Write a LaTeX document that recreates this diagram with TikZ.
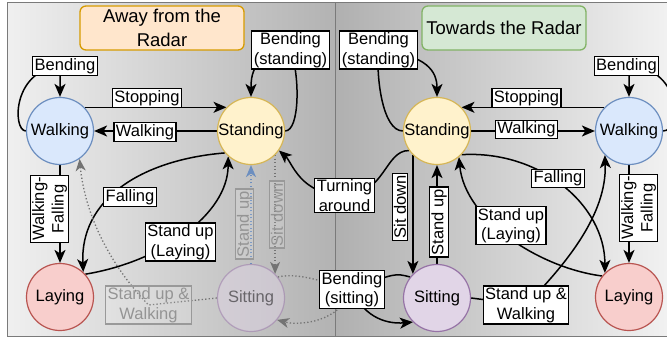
\documentclass[tikz,border=0pt]{standalone}
\usepackage{fontspec}
\setmainfont{Liberation Sans}
\usetikzlibrary{arrows.meta}
\pgfdeclarelayer{panel}
\pgfdeclarelayer{edges}
\pgfsetlayers{panel,edges,main}

\definecolor{walkfill}{HTML}{DAE8FC}\definecolor{walkline}{HTML}{6C8EBF}
\definecolor{standfill}{HTML}{FFF2CC}\definecolor{standline}{HTML}{D6B656}
\definecolor{layfill}{HTML}{F8CECC}\definecolor{layline}{HTML}{B85450}
\definecolor{sitfill}{HTML}{E1D5E7}\definecolor{sitline}{HTML}{9673A6}
\definecolor{awayfill}{HTML}{FFE6CC}\definecolor{awayline}{HTML}{D79B00}
\definecolor{towfill}{HTML}{D5E8D4}\definecolor{towline}{HTML}{82B366}
\definecolor{panelline}{HTML}{7A7A7A}

\begin{document}
\begin{tikzpicture}[x=1pt,y=-1pt,
  state/.style={circle,minimum size=67pt,inner sep=0pt,line width=1.2pt,
    font=\fontsize{16.5}{20}\selectfont},
  walkst/.style={state,fill=walkfill,draw=walkline},
  standst/.style={state,fill=standfill,draw=standline},
  layst/.style={state,fill=layfill,draw=layline},
  sitst/.style={state,fill=sitfill,draw=sitline},
  ghostst/.style={sitst,fill opacity=0.45,draw opacity=0.5,text opacity=0.5},
  title/.style={rounded corners=6pt,line width=1.3pt,minimum width=164pt,
    minimum height=44pt,align=center,inner sep=1pt,
    font=\fontsize{18.5}{23.5}\selectfont},
  lbl/.style={draw,fill=white,line width=1.3pt,inner xsep=2pt,inner ysep=1.5pt,
    align=center,font=\fontsize{16.5}{19.5}\selectfont},
  ghostlbl/.style={lbl,fill opacity=0.12,draw=black!40,draw opacity=1,
    text opacity=1,text=black!42},
  tip/.style={-{Stealth[length=13pt,width=11pt,inset=3.5pt]}},
  arr/.style={line width=1.5pt,tip},
  ghost/.style={line width=1.3pt,dash pattern=on 1.3pt off 2.2pt,draw=black!55,
    -{Stealth[length=12pt,width=10pt,inset=3.5pt,fill=black!55]}},
  ghostblue/.style={ghost,draw=walkline,
    -{Stealth[length=12pt,width=10pt,inset=3.5pt,fill=walkline]}}
]
\useasboundingbox (0,0) rectangle (667,339);

% two shaded panels
\begin{pgfonlayer}{panel}
  \shade[left color=black!6,right color=black!30] (7.5,2.5) rectangle (335.5,336.5);
  \shade[left color=black!31,right color=black!5] (335.5,2.5) rectangle (672,336.5);
  \draw[panelline,line width=1.6pt] (7.5,2.5) rectangle (335.5,336.5);
  \draw[panelline,line width=1.6pt] (335.5,2.5) rectangle (672,336.5);
\end{pgfonlayer}

% titles
\node[title,fill=awayfill,draw=awayline] (away) at (162,28) {Away from the\\Radar};
\node[title,fill=towfill,draw=towline] (tow) at (504,28) {Towards the Radar};

% states, left panel
\node[walkst]  (wL)  at (60,131)  {Walking};
\node[standst] (sL)  at (251,131) {Standing};
\node[layst]   (lL)  at (60,297)  {Laying};
\node[ghostst] (siL) at (251,298) {Sitting};

% states, right panel
\node[standst] (sR)  at (437,131) {Standing};
\node[walkst]  (wR)  at (629,131) {Walking};
\node[sitst]   (siR) at (437,298) {Sitting};
\node[layst]   (lR)  at (629,297) {Laying};

% transition labels, left panel
\node[lbl] (bwL)   at (65,66)     {Bending};
\node[lbl] (stopL) at (147,98)    {Stopping};
\node[lbl] (walkL) at (145,132)   {Walking};
\node[lbl] (bsL)   at (290.5,50)  {Bending\\(standing)};
\node[lbl] (fallL) at (130,197)   {Falling};
\node[lbl] (suL)   at (180.5,242) {Stand up\\(Laying)};
\node[lbl,rotate=90] (wfL) at (49.5,209) {Walking-\\Falling};
\node[ghostlbl,rotate=90] (gsuL) at (244.5,224) {Stand up};
\node[ghostlbl,rotate=90] (gsdL) at (277,214.5) {Sit down};
\node[ghostlbl] (gswL) at (148.5,305) {Stand up \&\\Walking};

% labels across the divider
\node[lbl] (bsit) at (352,289.5) {Bending\\(sitting)};
\node[lbl] (turn) at (344.5,195.5) {Turning\\around};

% transition labels, right panel
\node[lbl] (bsR)   at (378.5,50)  {Bending\\(standing)};
\node[lbl] (stopR) at (526.5,98)  {Stopping};
\node[lbl] (walkR) at (526.5,129.5) {Walking};
\node[lbl] (bwR)   at (626.5,66)  {Bending};
\node[lbl,rotate=90] (wfR) at (638.5,208) {Walking-\\Falling};
\node[lbl] (fallR) at (558,178.5) {Falling};
\node[lbl] (suR)   at (511,225.5) {Stand up\\(Laying)};
\node[lbl,rotate=90] (sdR)  at (400,207) {Sit down};
\node[lbl,rotate=90] (supR) at (439,222) {Stand up};
\node[lbl] (swR)   at (526,305)   {Stand up \&\\Walking};

\begin{pgfonlayer}{edges}
  % left panel
  \draw[arr] (wL.west) .. controls (12,131) and (12,66) .. (bwL.center) -| (wL.north);
  \draw[arr] (wL.44) -- (sL.136);
  \draw[arr] (sL.west) -- (wL.east);
  \draw[arr] (sL.east) .. controls (300,131) and (300,75) .. (bsL.center)
             .. controls (256,55) and (251,70) .. (sL.north);
  \draw[arr] (sL.220) .. controls (140,160) and (80,200) .. (lL.47);
  \draw[arr] (lL.42) .. controls (160,262) and (228,215) .. (sL.228);
  \draw[arr] (wL.south) -- (lL.north);
  \draw[ghostblue] (siL.north) -- (sL.south);
  \draw[ghost] (sL.-45) -- (siL.45);
  \draw[ghost] (siL.west) -- (gswL.center) .. controls (110,265) and (85,215) .. (wL.-55);
  \draw[ghost] (siL.38) .. controls (300,272) and (325,283) .. (bsit.center)
               .. controls (340,322) and (300,326) .. (siL.-40);
  % between the panels
  \draw[arr] (sR.215) .. controls (385,150) and (385,195) .. (turn.center)
             .. controls (300,195) and (292,162) .. (sL.-35);
  % right panel
  \draw[arr] (sR.west) .. controls (382,131) and (376,75) .. (bsR.center)
             .. controls (428,55) and (437,72) .. (sR.north);
  \draw[arr] (wR.136) -- (sR.44);
  \draw[arr] (sR.east) -- (wR.west);
  \draw[arr] (wR.east) .. controls (682,131) and (682,66) .. (bwR.center) -| (wR.north);
  \draw[arr] (wR.south) -- (lR.north);
  \draw[arr] (sR.-44) .. controls (540,150) and (605,205) .. (lR.135);
  \draw[arr] (lR.142) .. controls (540,268) and (465,220) .. (sR.-50);
  \draw[arr] (sR.-135) -- (siR.135);
  \draw[arr] (siR.north) -- (sR.south);
  \draw[arr] (siR.east) -- (swR.center) .. controls (565,265) and (607,215) .. (wR.-135);
  \draw[arr] (siR.142) .. controls (395,273) .. (bsit.center)
             .. controls (365,320) and (390,324) .. (siR.-135);
\end{pgfonlayer}
\end{tikzpicture}
\end{document}
